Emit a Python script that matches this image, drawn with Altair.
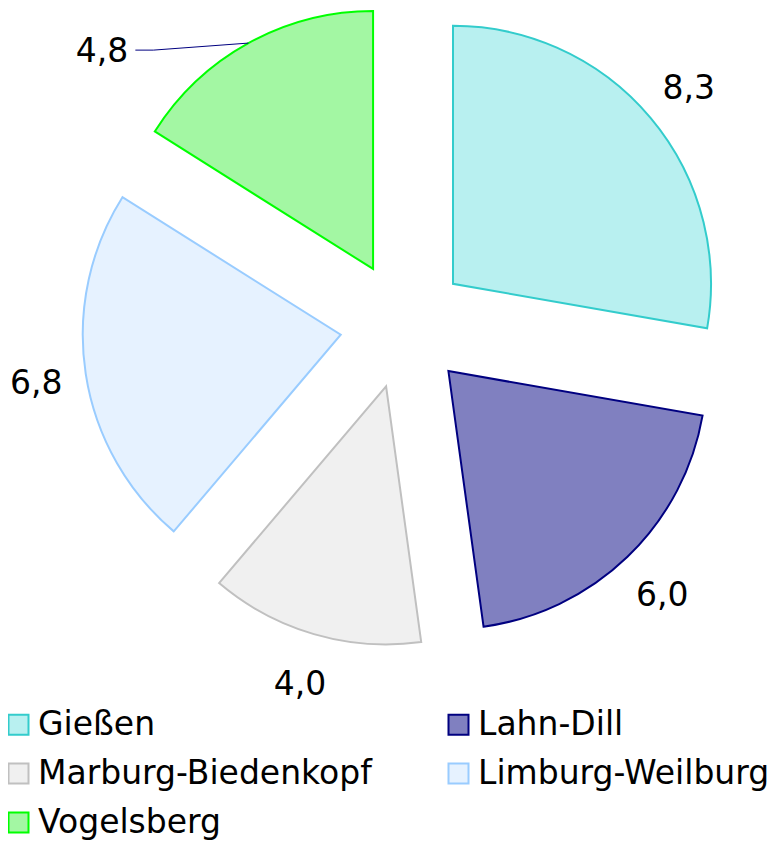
import altair as alt
import pandas as pd

# ---- data ----
regions = ["Gießen", "Lahn-Dill", "Marburg-Biedenkopf", "Limburg-Weilburg", "Vogelsberg"]
values = [8.3, 6.0, 4.0, 6.8, 4.8]
labels = ["8,3", "6,0", "4,0", "6,8", "4,8"]

# ---- styles ----
fill_colors = ["#b8f0f0", "#8080c0", "#f0f0f0", "#e6f2ff", "#a3f7a3"]
stroke_colors = ["#33cccc", "#000080", "#c0c0c0", "#99ccff", "#00ff00"]

df = pd.DataFrame({"region": regions, "value": values, "label": labels,
                   "order": list(range(len(regions)))})

CX, CY = 396, 317      # pie centre (px)
EXPLODE = 64           # explode distance
RADIUS = 258
LABEL_R = 372
LEADER_REGION = "Vogelsberg"
LEADER_SHIFT = 0.235   # radians the leader label is rotated back
FONT = "DejaVu Sans"

base = (
    alt.Chart(df)
    .transform_window(cum="sum(value)", sort=[alt.SortField("order")], frame=[None, 0])
    .transform_joinaggregate(total="sum(value)")
    .transform_calculate(t0="2*PI*(datum.cum - datum.value)/datum.total")
    .transform_calculate(t1="2*PI*datum.cum/datum.total")
    .transform_calculate(mid="(datum.t0 + datum.t1)/2")
    .transform_calculate(cx=f"{CX} + {EXPLODE}*sin(datum.mid)")
    .transform_calculate(cy=f"{CY} - {EXPLODE}*cos(datum.mid)")
    .transform_calculate(ax=f"{CX} + {EXPLODE + RADIUS}*sin(datum.mid)")
    .transform_calculate(ay=f"{CY} - {EXPLODE + RADIUS}*cos(datum.mid)")
    .transform_calculate(la=f"datum.region === '{LEADER_REGION}' ? datum.mid - {LEADER_SHIFT} : datum.mid")
    .transform_calculate(lx=f"{CX} + {LABEL_R}*sin(datum.la)")
    .transform_calculate(ly=f"{CY} - {LABEL_R}*cos(datum.la)")
    .transform_calculate(lx2="datum.lx - 18")
    .transform_calculate(tx="datum.lx - 25")
)

legend = alt.Legend(
    title=None, orient="none", legendX=-6, legendY=700, columns=2, direction="horizontal",
    symbolType="square", symbolSize=400, symbolStrokeWidth=2,
    labelFontSize=33, labelFont=FONT, labelColor="#000000", labelLimit=600,
    columnPadding=70, rowPadding=15, labelOffset=3, padding=0,
)

arcs = base.mark_arc(outerRadius=RADIUS, strokeWidth=2).encode(
    x=alt.X("cx:Q", scale=None, axis=None),
    y=alt.Y("cy:Q", scale=None, axis=None),
    theta=alt.Theta("t0:Q", scale=None, stack=False),
    theta2="t1:Q",
    fill=alt.Fill("region:N", scale=alt.Scale(domain=regions, range=fill_colors), legend=legend),
    stroke=alt.Stroke("region:N", scale=alt.Scale(domain=regions, range=stroke_colors), legend=legend),
)

text_plain = base.transform_filter(f"datum.region !== '{LEADER_REGION}'").mark_text(
    font=FONT, fontSize=33, color="#000000", align="center", baseline="middle", dy=3
).encode(
    x=alt.X("lx:Q", scale=None, axis=None),
    y=alt.Y("ly:Q", scale=None, axis=None),
    text="label:N",
)

leader_base = base.transform_filter(f"datum.region === '{LEADER_REGION}'")

leader1 = leader_base.mark_rule(color="#000080", strokeWidth=1).encode(
    x=alt.X("ax:Q", scale=None, axis=None),
    y=alt.Y("ay:Q", scale=None, axis=None),
    x2="lx:Q",
    y2="ly:Q",
)
leader2 = leader_base.mark_rule(color="#000080", strokeWidth=1).encode(
    x=alt.X("lx:Q", scale=None, axis=None),
    y=alt.Y("ly:Q", scale=None, axis=None),
    x2="lx2:Q",
    y2="ly:Q",
)
text_leader = leader_base.mark_text(
    font=FONT, fontSize=33, color="#000000", align="right", baseline="middle", dy=2
).encode(
    x=alt.X("tx:Q", scale=None, axis=None),
    y=alt.Y("ly:Q", scale=None, axis=None),
    text="label:N",
)

chart = (
    alt.layer(arcs, leader1, leader2, text_plain, text_leader)
    .properties(width=763, height=834, padding=0, autosize=alt.AutoSizeParams(type="none"))
    .configure_view(stroke=None)
)

chart.save("out.html", embed_options={"renderer": "svg", "actions": False})
